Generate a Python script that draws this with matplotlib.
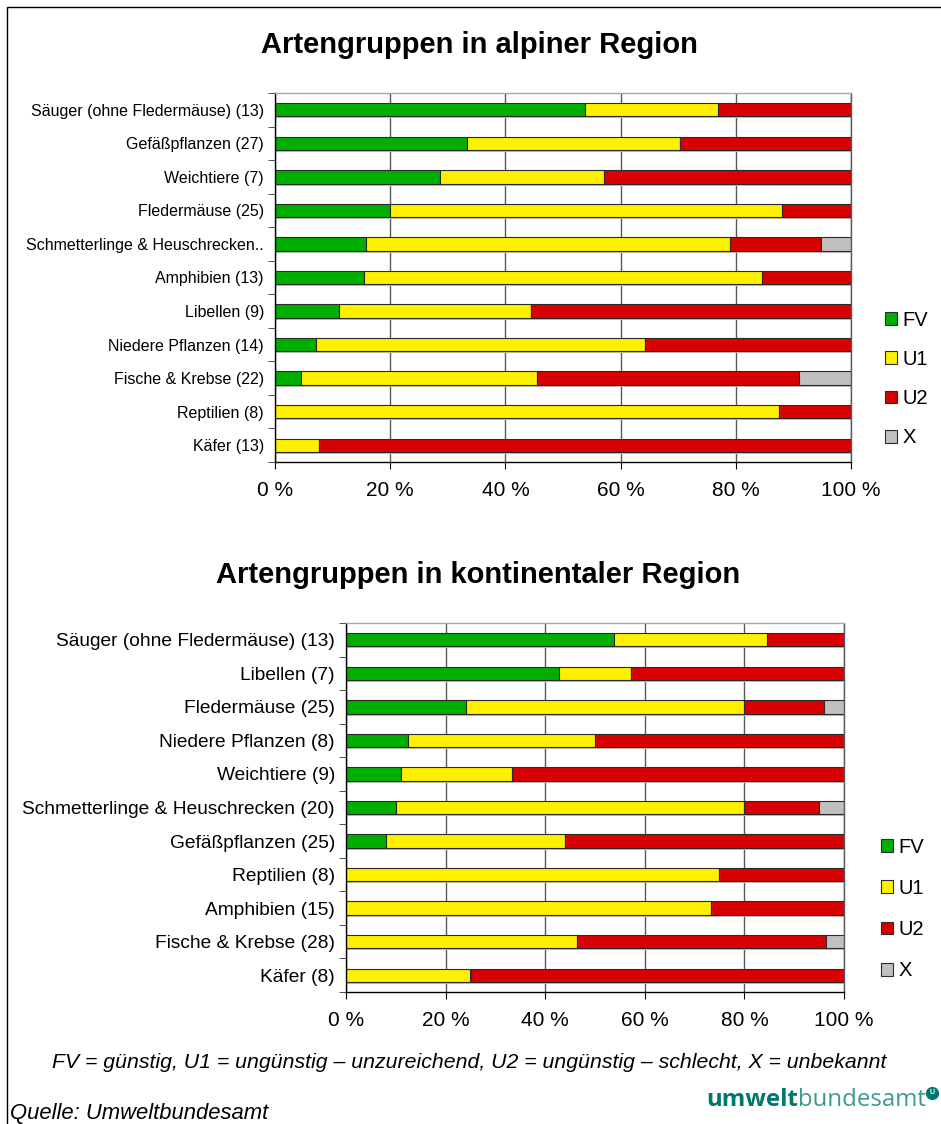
import matplotlib
matplotlib.use("Agg")
import matplotlib.pyplot as plt
from matplotlib.patches import Patch, Rectangle
from matplotlib.lines import Line2D
import numpy as np

plt.rcParams["font.family"] = ["Liberation Sans", "DejaVu Sans"]

# alpine region (counts per status)
alp_labels = [
    "Säuger (ohne Fledermäuse) (13)",
    "Gefäßpflanzen (27)",
    "Weichtiere (7)",
    "Fledermäuse (25)",
    "Schmetterlinge & Heuschrecken..",
    "Amphibien (13)",
    "Libellen (9)",
    "Niedere Pflanzen (14)",
    "Fische & Krebse (22)",
    "Reptilien (8)",
    "Käfer (13)",
]
alp_fv = [7, 9, 2, 5, 3, 2, 1, 1, 1, 0, 0]
alp_u1 = [3, 10, 2, 17, 12, 9, 3, 8, 9, 7, 1]
alp_u2 = [3, 8, 3, 3, 3, 2, 5, 5, 10, 1, 12]
alp_x = [0, 0, 0, 0, 1, 0, 0, 0, 2, 0, 0]

# continental region
kon_labels = [
    "Säuger (ohne Fledermäuse) (13)",
    "Libellen (7)",
    "Fledermäuse (25)",
    "Niedere Pflanzen (8)",
    "Weichtiere (9)",
    "Schmetterlinge & Heuschrecken (20)",
    "Gefäßpflanzen (25)",
    "Reptilien (8)",
    "Amphibien (15)",
    "Fische & Krebse (28)",
    "Käfer (8)",
]
kon_fv = [7, 3, 6, 1, 1, 2, 2, 0, 0, 0, 0]
kon_u1 = [4, 1, 14, 3, 2, 14, 9, 6, 11, 13, 2]
kon_u2 = [2, 3, 4, 4, 6, 3, 14, 2, 4, 14, 6]
kon_x = [0, 0, 1, 0, 0, 1, 0, 0, 0, 1, 0]

status_names = ["FV", "U1", "U2", "X"]
colors = ["#00AE00", "#FFF000", "#D80000", "#C0C0C0"]
x_ticks = [0, 20, 40, 60, 80, 100]


def draw_panel(ax, labels, fv, u1, u2, xx, bar_h, label_fs):
    counts = np.array([fv, u1, u2, xx], dtype=float)
    pct = counts / counts.sum(axis=0) * 100
    y = np.arange(len(labels))

    # light shadow under the bars
    ax.barh(y + 0.06, pct.sum(axis=0), height=bar_h, color="#bcbcbc", zorder=1)
    left = np.zeros(len(labels))
    for i in range(4):
        mask = pct[i] > 0
        ax.barh(y[mask], pct[i][mask], left=left[mask], height=bar_h,
                color=colors[i], edgecolor="#2a2a2a", linewidth=0.8, zorder=2)
        left += pct[i]

    ax.set_xlim(0, 100)
    ax.set_ylim(len(labels) - 0.5, -0.5)
    ax.set_yticks(y)
    ax.set_yticklabels(labels, fontsize=label_fs)
    ax.set_yticks(np.arange(len(labels) + 1) - 0.5, minor=True)
    ax.tick_params(axis="y", which="major", length=0, pad=8)
    ax.tick_params(axis="y", which="minor", length=5, color="#333333")
    ax.set_xticks(x_ticks)
    ax.set_xticklabels([f"{v} %" for v in x_ticks], fontsize=15)
    ax.tick_params(axis="x", length=5, pad=9)
    ax.xaxis.grid(True, color="#5a5a5a", linewidth=1)
    ax.set_axisbelow(True)
    ax.spines["left"].set_color("black")
    ax.spines["bottom"].set_color("black")
    ax.spines["top"].set_color("#a8a8a8")
    ax.spines["right"].set_color("#5a5a5a")
    for s in ax.spines.values():
        s.set_linewidth(1)


fig = plt.figure(figsize=(9.41, 11.24), dpi=100)

ax1 = fig.add_axes([275 / 941, 1 - 462 / 1124, 576 / 941, 369 / 1124])
draw_panel(ax1, alp_labels, alp_fv, alp_u1, alp_u2, alp_x, 0.40, 11.5)

ax2 = fig.add_axes([346 / 941, 1 - 992 / 1124, 498 / 941, 369 / 1124])
draw_panel(ax2, kon_labels, kon_fv, kon_u1, kon_u2, kon_x, 0.40, 13.75)

fig.text(479 / 941, 1 - 45 / 1124, "Artengruppen in alpiner Region",
         ha="center", va="center", fontsize=21, fontweight="bold")
fig.text(478 / 941, 1 - 575 / 1124, "Artengruppen in kontinentaler Region",
         ha="center", va="center", fontsize=21, fontweight="bold")

handles = [Patch(facecolor=c, edgecolor="#2a2a2a", linewidth=0.8) for c in colors]
fig.legend(handles, status_names, loc="center left",
           bbox_to_anchor=(875 / 941, 1 - 379 / 1124), frameon=False,
           fontsize=14.5, handlelength=0.6, handleheight=0.6,
           handletextpad=0.25, labelspacing=1.0, borderpad=0)
fig.legend(handles, status_names, loc="center left",
           bbox_to_anchor=(871 / 941, 1 - 909 / 1124), frameon=False,
           fontsize=14.5, handlelength=0.6, handleheight=0.6,
           handletextpad=0.25, labelspacing=1.1, borderpad=0)

fig.text(469 / 941, 1 - 1062 / 1124,
         "FV = günstig, U1 = ungünstig – unzureichend, U2 = ungünstig – schlecht, X = unbekannt",
         ha="center", va="center", fontsize=15.3, style="italic")
fig.text(10 / 941, 1 - 1114 / 1124, "Quelle: Umweltbundesamt",
         ha="left", va="center", fontsize=15.8, style="italic")

# logo text
renderer = fig.canvas.get_renderer()
t2 = fig.text(926 / 941, 1 - 1106 / 1124, "bundesamt", ha="right", va="baseline",
              fontsize=17.3, color="#3c9a93", family=["Open Sans", "DejaVu Sans"])
bb = t2.get_window_extent(renderer)
fig.text(bb.x0 / fig.bbox.width, 1 - 1106 / 1124, "umwelt", ha="right", va="baseline",
         fontsize=17.3, color="#00786f", fontweight="bold", family=["Open Sans", "DejaVu Sans"])
fig.add_artist(Line2D([932 / 941], [1 - 1093 / 1124], marker="o", markersize=8.5,
                      color="#00786f", transform=fig.transFigure))
fig.text(932 / 941, 1 - 1093 / 1124, "U", ha="center", va="center",
         fontsize=5, color="white", fontweight="bold")

# outer frame
fig.add_artist(Rectangle((7 / 941, -0.05), 1.0, 1 - 7 / 1124 + 0.05,
                         transform=fig.transFigure, fill=False,
                         edgecolor="black", linewidth=1))

fig.savefig("out.png", dpi=100)
